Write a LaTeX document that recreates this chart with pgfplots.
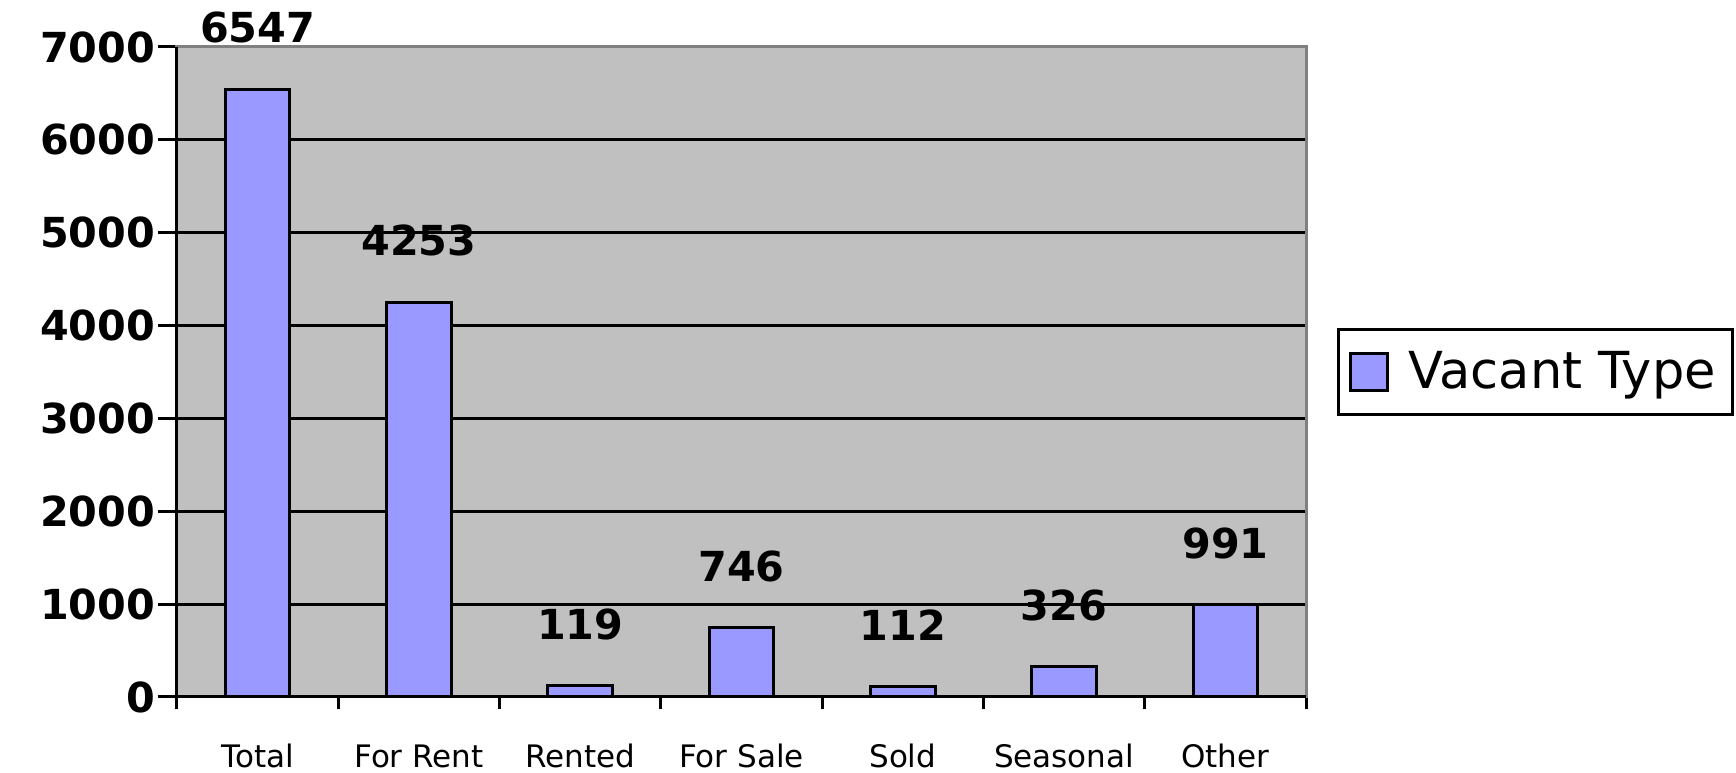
\documentclass[border=0pt]{standalone}
\usepackage{fontspec}
\setmainfont{DejaVu Sans}
\usepackage{pgfplots}
\pgfplotsset{compat=1.18}
\definecolor{barc}{HTML}{9999FF}
\definecolor{bgc}{HTML}{C0C0C0}
\definecolor{framec}{HTML}{808080}
\begin{document}
\begin{tikzpicture}
\begin{axis}[
  name=ax, at={(0,0)}, anchor=south west,
  scale only axis, width=338.7pt, height=195pt,
  xmin=-0.5, xmax=6.5, ymin=0, ymax=7000,
  clip=false,
  ybar, bar width=0.4,
  axis background/.style={fill=bgc},
  axis line style={draw=framec, line width=0.9pt},
  ytick={0,1000,...,7000},
  ymajorgrids, major grid style={black, line width=0.9pt},
  xtick={0,...,6},
  xticklabels={Total,For Rent,Rented,For Sale,Sold,Seasonal,Other},
  minor xtick={-0.5,0.5,...,6.5},
  tick align=outside, xtick pos=bottom, ytick pos=left,
  major tick length=5.7pt, minor tick length=3.7pt,
  tick style={black, line width=0.9pt},
  every major x tick/.append style={draw=none},
  /pgf/number format/assume math mode=true,
  /pgf/number format/1000 sep={},
  yticklabel style={font=\fontsize{12.4}{14}\selectfont\bfseries, xshift=2.7pt},
  xticklabel style={font=\fontsize{9.3}{11}\selectfont, yshift=-5pt},
  nodes near coords,
  nodes near coords style={font=\fontsize{12.4}{14}\selectfont\bfseries, anchor=south, yshift=10pt, black},
  legend style={at={(1.0275,0.5)}, anchor=west, draw=black, line width=0.9pt, fill=white,
    font=\fontsize{15.3}{18}\selectfont, inner xsep=3pt, inner ysep=4.5pt, column sep=4pt},
  legend image code/.code={\draw[fill=barc, draw=black, line width=0.9pt] (0pt,-5.5pt) rectangle (11.1pt,5.5pt);},
]
\addplot[fill=barc, draw=black, line width=0.9pt] coordinates {(0,6547) (1,4253) (2,119) (3,746) (4,112) (5,326) (6,991)};
\addlegendentry{Vacant Type}
\draw[black, line width=0.9pt] (rel axis cs:0,1) -- (rel axis cs:0,0) -- (rel axis cs:1,0);
\end{axis}
\pgfresetboundingbox
\useasboundingbox (-53.1pt,-22.8pt) rectangle (467.7pt,209.1pt);
\end{tikzpicture}
\end{document}
